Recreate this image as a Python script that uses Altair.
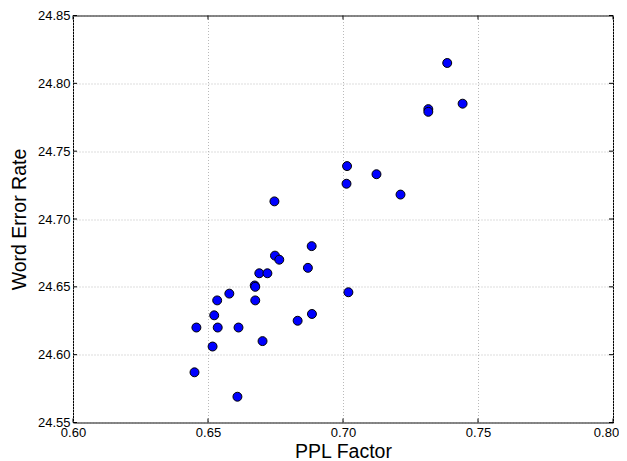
import altair as alt
import pandas as pd

ppl_factor = [0.7386, 0.7443, 0.7316, 0.7316, 0.7015, 0.7124, 0.7013, 0.7213,
              0.6746, 0.6884, 0.6748, 0.6764, 0.6870, 0.6690, 0.6720, 0.6673,
              0.6675, 0.7020, 0.6579, 0.6534, 0.6675, 0.6885, 0.6832, 0.6523,
              0.6457, 0.6536, 0.6613, 0.6702, 0.6517, 0.6450, 0.6609]
word_error_rate = [24.815, 24.785, 24.781, 24.779, 24.739, 24.733, 24.726, 24.718,
                   24.713, 24.680, 24.673, 24.670, 24.664, 24.660, 24.660, 24.651,
                   24.650, 24.646, 24.645, 24.640, 24.640, 24.630, 24.625, 24.629,
                   24.620, 24.620, 24.620, 24.610, 24.606, 24.587, 24.569]
x_ticks = [0.60, 0.65, 0.70, 0.75, 0.80]
y_ticks = [24.55, 24.60, 24.65, 24.70, 24.75, 24.80, 24.85]

W, H = 540, 407
TL = 4

df = pd.DataFrame({"ppl": ppl_factor, "wer": word_error_rate})
xt = pd.DataFrame({"ppl": x_ticks})
yt = pd.DataFrame({"wer": y_ticks})

xs = alt.Scale(domain=[0.60, 0.80], nice=False, zero=False)
ys = alt.Scale(domain=[24.55, 24.85], nice=False, zero=False)

x_axis = alt.Axis(values=x_ticks, format=".2f", title="PPL Factor",
                  labelPadding=4, titlePadding=3, labelFlush=False,
                  labelOffset={"expr": "datum.value > 0.79 ? -7 : 0"})
y_axis = alt.Axis(values=y_ticks, format=".2f", title="Word Error Rate",
                  labelPadding=3, titlePadding=8, labelFlush=False)

points = alt.Chart(df).mark_circle(
    size=80, color="#0000ff", opacity=1, stroke="black", strokeWidth=1
).encode(
    x=alt.X("ppl:Q", scale=xs, axis=x_axis),
    y=alt.Y("wer:Q", scale=ys, axis=y_axis),
)

bt = alt.Chart(xt).mark_rule(color="black", strokeWidth=1).encode(
    x=alt.X("ppl:Q", scale=xs, axis=x_axis), y=alt.value(H), y2=alt.value(H - TL))
tt = alt.Chart(xt).mark_rule(color="black", strokeWidth=1).encode(
    x=alt.X("ppl:Q", scale=xs, axis=x_axis), y=alt.value(0), y2=alt.value(TL))
lt = alt.Chart(yt).mark_rule(color="black", strokeWidth=1).encode(
    y=alt.Y("wer:Q", scale=ys, axis=y_axis), x=alt.value(0), x2=alt.value(TL))
rt = alt.Chart(yt).mark_rule(color="black", strokeWidth=1).encode(
    y=alt.Y("wer:Q", scale=ys, axis=y_axis), x=alt.value(W), x2=alt.value(W - TL))

chart = alt.layer(points, bt, tt, lt, rt).properties(
    width=W, height=H,
    autosize=alt.AutoSizeParams(type="none"),
    padding={"left": 65, "top": 7.5, "right": 6, "bottom": 38},
).configure_view(
    stroke="black", strokeWidth=1
).configure_axis(
    domain=False, ticks=False,
    labelFont="Liberation Sans", labelFontSize=13, labelColor="black",
    titleFont="Liberation Sans", titleFontSize=19.5, titleFontWeight="normal",
    titleColor="black",
    gridColor="#a8a8a8", gridDash=[1, 2], gridWidth=0.8,
)

chart.save("out.html", embed_options={"renderer": "svg", "actions": False})
